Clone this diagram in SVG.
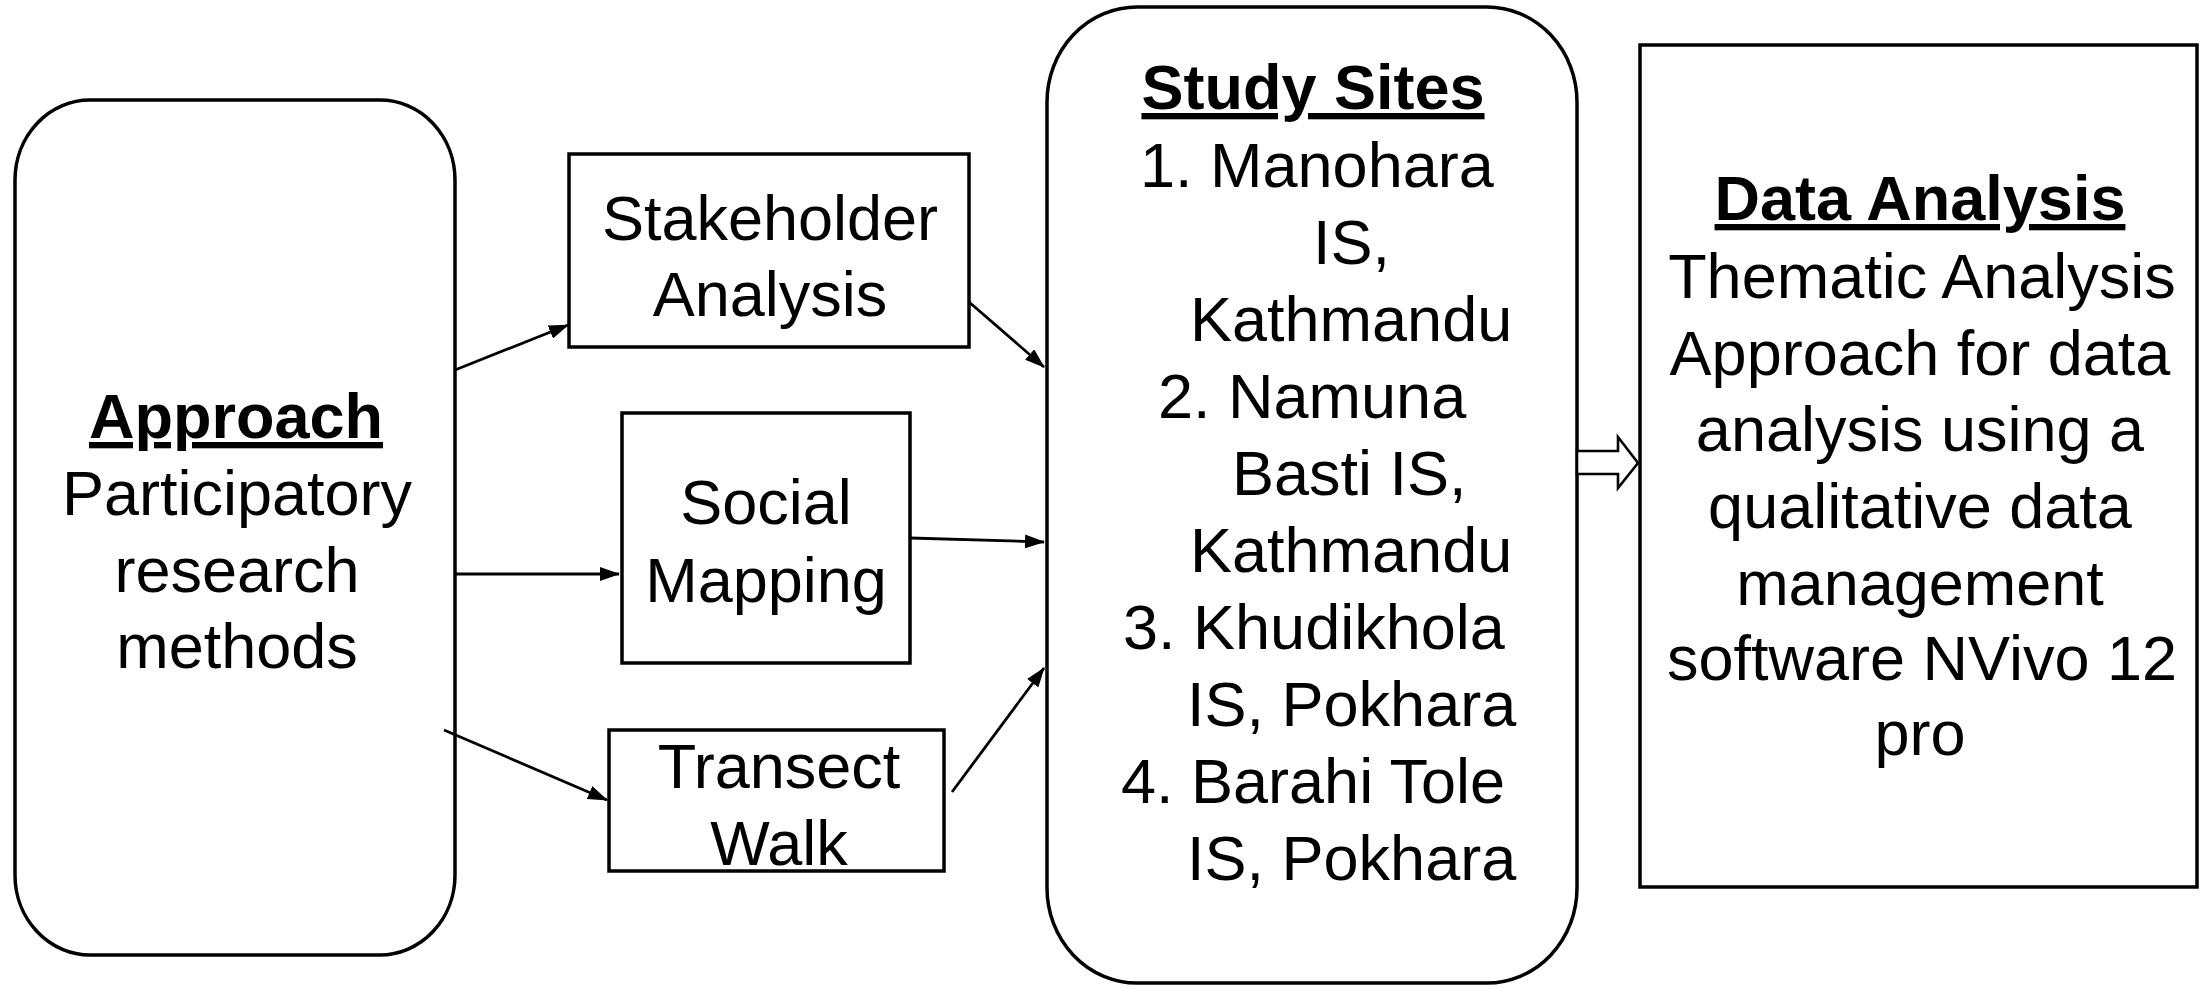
<svg xmlns="http://www.w3.org/2000/svg" width="2203" height="988" viewBox="0 0 2203 988">
<style>
  .box { fill: #ffffff; stroke: #000000; stroke-width: 3.5; }
  .t { font-family: "Liberation Sans", Arial, sans-serif; font-size: 63px; fill: #000000; }
  .c { text-anchor: middle; }
  .h { font-weight: bold; text-decoration: underline; }
  .conn { stroke: #000000; stroke-width: 2.8; fill: none; marker-end: url(#ah); }
  .block { fill: #ffffff; stroke: #000000; stroke-width: 2.6; stroke-linejoin: miter; }
</style>
<defs>
  <marker id="ah" markerUnits="userSpaceOnUse" markerWidth="20" markerHeight="14" refX="19" refY="7" orient="auto">
    <path d="M0,0 L20,7 L0,14 z" fill="#000000"/>
  </marker>
</defs>
<rect width="2203" height="988" fill="#ffffff"/>

<g id="approach">
  <rect class="box" x="15" y="100" width="440" height="855" rx="75" ry="80"/>
  <text class="t c h" x="236" y="438">Approach</text>
  <text class="t c" x="237" y="515">Participatory</text>
  <text class="t c" x="237" y="592">research</text>
  <text class="t c" x="237" y="668">methods</text>
</g>

<g id="stakeholder">
  <rect class="box" x="569" y="154" width="400" height="193"/>
  <text class="t c" x="770" y="240">Stakeholder</text>
  <text class="t c" x="770" y="316">Analysis</text>
</g>

<g id="social">
  <rect class="box" x="622" y="413" width="288" height="250"/>
  <text class="t c" x="766" y="524">Social</text>
  <text class="t c" x="766" y="602">Mapping</text>
</g>

<g id="transect">
  <rect class="box" x="609" y="730" width="335" height="141"/>
  <text class="t c" x="779" y="788">Transect</text>
  <text class="t c" x="779" y="865">Walk</text>
</g>

<g id="study">
  <rect class="box" x="1047" y="7" width="530" height="976" rx="90" ry="95"/>
  <text class="t c h" x="1313" y="109">Study Sites</text>
  <text class="t" x="1140" y="187">1. Manohara</text>
  <text class="t" x="1313" y="264">IS,</text>
  <text class="t" x="1190" y="341">Kathmandu</text>
  <text class="t" x="1158" y="418">2. Namuna</text>
  <text class="t" x="1232" y="495">Basti IS,</text>
  <text class="t" x="1190" y="572">Kathmandu</text>
  <text class="t" x="1123" y="649">3. Khudikhola</text>
  <text class="t" x="1187" y="726">IS, Pokhara</text>
  <text class="t" x="1121" y="803">4. Barahi Tole</text>
  <text class="t" x="1187" y="880">IS, Pokhara</text>
</g>

<g id="analysis">
  <rect class="box" x="1640" y="45" width="557" height="842"/>
  <text class="t c h" x="1920" y="220">Data Analysis</text>
  <text class="t c" x="1922" y="298">Thematic Analysis</text>
  <text class="t c" x="1920" y="375">Approach for data</text>
  <text class="t c" x="1920" y="451">analysis using a</text>
  <text class="t c" x="1920" y="528">qualitative data</text>
  <text class="t c" x="1920" y="605">management</text>
  <text class="t c" x="1922" y="680">software NVivo 12</text>
  <text class="t c" x="1920" y="755">pro</text>
</g>

<g id="connectors">
  <line class="conn" x1="455" y1="370" x2="568" y2="325"/>
  <line class="conn" x1="455" y1="574" x2="619" y2="574"/>
  <line class="conn" x1="444" y1="730" x2="607" y2="800"/>
  <line class="conn" x1="969" y1="302" x2="1044" y2="367"/>
  <line class="conn" x1="910" y1="538" x2="1044" y2="542"/>
  <line class="conn" x1="952" y1="792" x2="1044" y2="668"/>
  <polygon class="block" points="1577,451 1618,451 1618,437 1638,463 1618,488 1618,474 1577,474"/>
</g>
</svg>
